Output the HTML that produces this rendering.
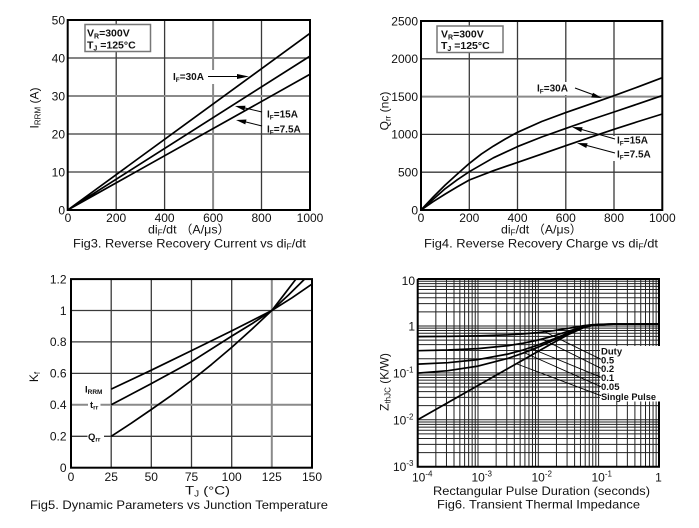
<!DOCTYPE html>
<html><head><meta charset="utf-8"><style>
html,body{margin:0;padding:0;background:#fff;}
svg{display:block;font-family:"Liberation Sans",Arial,"Noto Sans CJK SC",sans-serif;}
.t{font-size:12px;fill:#111;}
.b{font-weight:bold;fill:#111;}
.g{fill:none;stroke:#3a3a3a;stroke-width:1.3;}
.gg{fill:none;stroke:#8a8a8a;stroke-width:2;}
.f{fill:none;stroke:#000;stroke-width:2;}
.c{fill:none;stroke:#000;stroke-width:1.7;stroke-linejoin:round;}
.l{fill:none;stroke:#000;stroke-width:1;}
</style></head><body>
<svg width="699" height="528" viewBox="0 0 699 528" xmlns="http://www.w3.org/2000/svg">
<rect width="699" height="528" fill="#fff"/>

<!-- ===== Fig3 ===== -->
<path class="g" d="M116.2,20V210 M164.6,20V210 M261.5,20V210 M67.7,58H310 M67.7,134H310 M67.7,172H310"/>
<path class="gg" d="M213.1,20V210 M67.7,96H310"/>
<rect x="171" y="70" width="44" height="14" fill="#fff"/>
<path class="c" d="M67.7,210 L310,33.3 M67.7,210 L310,56.1 M67.7,210 L310,74.3"/>
<rect class="f" x="67.7" y="20" width="242.3" height="190"/>
<rect x="85" y="24.5" width="65.5" height="27" fill="#fff" stroke="#777" stroke-width="1.5"/>
<text class="b" x="87" y="36.5" font-size="10.5">V<tspan font-size="7" dy="2">R</tspan><tspan dy="-2">=300V</tspan></text>
<text class="b" x="87" y="48.5" font-size="10.5">T<tspan font-size="7" dy="2">J</tspan><tspan dy="-2"> =125°C</tspan></text>
<text class="b" x="173" y="80" font-size="10">I<tspan font-size="6.5" dy="2">F</tspan><tspan dy="-2">=30A</tspan></text>
<path class="l" d="M208,76.5 L240,76.5"/><path d="M249,76.5 L237,74 L237,79 Z" fill="#000"/>
<text class="b" x="267" y="117.5" font-size="10">I<tspan font-size="6.5" dy="2">F</tspan><tspan dy="-2">=15A</tspan></text>
<path class="l" d="M262,112 L243,107.5"/><path d="M235,106 L245.5,105.8 L244.3,110.7 Z" fill="#000"/>
<text class="b" x="267" y="132.5" font-size="10">I<tspan font-size="6.5" dy="2">F</tspan><tspan dy="-2">=7.5A</tspan></text>
<path class="l" d="M262,126 L244,121.5"/><path d="M236,120 L246.5,119.5 L245.3,124.4 Z" fill="#000"/>
<g class="t" text-anchor="middle">
<text x="68" y="222">0</text><text x="116.2" y="222">200</text><text x="164.6" y="222">400</text><text x="213.1" y="222">600</text><text x="261.5" y="222">800</text><text x="310" y="222">1000</text>
</g>
<g class="t" text-anchor="end">
<text x="65" y="24.3">50</text><text x="65" y="62.3">40</text><text x="65" y="100.3">30</text><text x="65" y="138.3">20</text><text x="65" y="176.3">10</text><text x="65" y="214.3">0</text>
</g>
<text class="t" x="148" y="233.5" textLength="82" lengthAdjust="spacingAndGlyphs">di<tspan font-size="8" dy="2">F</tspan><tspan dy="-2">/dt （A/μs）</tspan></text>
<text class="t" x="73" y="247.5" textLength="233" lengthAdjust="spacingAndGlyphs">Fig3. Reverse Recovery Current vs di<tspan font-size="8" dy="2">F</tspan><tspan dy="-2">/dt</tspan></text>
<text class="t" transform="translate(38.5,108) rotate(-90)" text-anchor="middle">I<tspan font-size="8" dy="2">RRM</tspan><tspan dy="-2"> (A)</tspan></text>

<!-- ===== Fig4 ===== -->
<path class="g" d="M469.3,21V210 M517.5,21V210 M565.8,21V210 M614,21V210 M421,58.8H662.3 M421,134.4H662.3 M421,172.2H662.3"/>
<path class="gg" d="M421,96.6H662.3"/>
<rect x="535" y="82" width="40" height="13" fill="#fff"/>
<rect x="612" y="136" width="46" height="25" fill="#fff"/>
<path class="c" d="M421,210 L433.1,197.1 L445.1,185.1 L457.2,174.1 L469.3,163.4 L481.3,154.1 L493.4,146.1 L505.5,138.9 L517.5,132.3 L541.7,121.5 L565.8,112.6 L589.9,104.2 L614,95.7 L638.2,86.8 L662.3,77.7"/>
<path class="c" d="M421,210 L433.1,199.4 L445.1,188.8 L457.2,179.8 L469.3,171.7 L493.4,157.8 L517.5,146.6 L541.7,137 L565.8,128.4 L589.9,120 L614,112 L638.2,103.8 L662.3,95.6"/>
<path class="c" d="M421,210 L433.1,201.7 L445.1,194.1 L457.2,186.9 L469.3,180 L493.4,170.7 L517.5,162.4 L541.7,154.1 L565.8,145.7 L589.9,137.4 L614,129.3 L638.2,121.5 L662.3,114"/>
<rect class="f" x="421" y="21" width="241.3" height="189"/>
<rect x="437" y="26" width="66" height="26.5" fill="#fff" stroke="#777" stroke-width="1.5"/>
<text class="b" x="441" y="37.5" font-size="10.5">V<tspan font-size="7" dy="2">R</tspan><tspan dy="-2">=300V</tspan></text>
<text class="b" x="441" y="49" font-size="10.5">T<tspan font-size="7" dy="2">J</tspan><tspan dy="-2"> =125°C</tspan></text>
<text class="b" x="537" y="91.5" font-size="10">I<tspan font-size="6.5" dy="2">F</tspan><tspan dy="-2">=30A</tspan></text>
<path class="l" d="M575,88 L594,95"/><path d="M602,98 L591.2,97.5 L593,92.8 Z" fill="#000"/>
<text class="b" x="617" y="143.5" font-size="10">I<tspan font-size="6.5" dy="2">F</tspan><tspan dy="-2">=15A</tspan></text>
<path class="l" d="M615,139 L580,129"/><path d="M572,127 L582.6,127.3 L581.2,132.1 Z" fill="#000"/>
<text class="b" x="617" y="157.5" font-size="10">I<tspan font-size="6.5" dy="2">F</tspan><tspan dy="-2">=7.5A</tspan></text>
<path class="l" d="M615,153 L585,145"/><path d="M577,143 L587.6,143.2 L586.3,148 Z" fill="#000"/>
<g class="t" text-anchor="middle">
<text x="421" y="222">0</text><text x="469.3" y="222">200</text><text x="517.5" y="222">400</text><text x="565.8" y="222">600</text><text x="614" y="222">800</text><text x="662.3" y="222">1000</text>
</g>
<g class="t" text-anchor="end">
<text x="418" y="25.3">2500</text><text x="418" y="63.1">2000</text><text x="418" y="100.9">1500</text><text x="418" y="138.7">1000</text><text x="418" y="176.5">500</text><text x="418" y="214.3">0</text>
</g>
<text class="t" x="501" y="233.5" textLength="81" lengthAdjust="spacingAndGlyphs">di<tspan font-size="8" dy="2">F</tspan><tspan dy="-2">/dt （A/μs）</tspan></text>
<text class="t" x="424" y="247.5" textLength="234" lengthAdjust="spacingAndGlyphs">Fig4. Reverse Recovery Charge vs di<tspan font-size="8" dy="2">F</tspan><tspan dy="-2">/dt</tspan></text>
<text class="t" transform="translate(388.5,111) rotate(-90)" text-anchor="middle">Q<tspan font-size="8" dy="2">rr</tspan><tspan dy="-2"> (nc)</tspan></text>

<!-- ===== Fig5 ===== -->
<path class="g" d="M111.2,279.1V467.7 M151.3,279.1V467.7 M191.5,279.1V467.7 M231.7,279.1V467.7 M71,310.5H312 M71,341.9H312 M71,373.4H312 M71,436.3H312"/>
<path class="gg" d="M271.8,279.1V467.7 M71,404.8H312"/>
<rect x="88" y="398" width="12.5" height="13" fill="#fff"/>
<rect x="87.5" y="430" width="16.5" height="13" fill="#fff"/>
<path class="c" d="M111.2,389.1 L151.3,370.2 L191.5,350.6 L231.7,330.9 L251.7,320.7 L271.8,310.5 L292,297.8 L312,284.1"/>
<path class="c" d="M111.2,404.8 L151.3,383.6 L191.5,361.7 L231.7,336.1 L251.7,323.9 L271.8,310.5 L288.5,295 L304.6,279.1"/>
<path class="c" d="M111.2,436.3 L131.3,423.2 L151.3,409.5 L171.4,395.4 L191.5,380.5 L211.6,364.4 L231.7,347.4 L251.7,329.4 L271.8,310.5 L283.9,294.8 L295.9,279.1"/>
<rect class="f" x="71" y="279.1" width="241" height="188.6"/>
<text class="b" x="85" y="392.5" font-size="9.5">I<tspan font-size="6.5" dy="1.5">RRM</tspan></text>
<text class="b" x="90" y="408" font-size="9.5">t<tspan font-size="6.5" dy="1.5">rr</tspan></text>
<text class="b" x="88" y="440" font-size="9.5">Q<tspan font-size="6.5" dy="1.5">rr</tspan></text>
<g class="t" text-anchor="middle">
<text x="71" y="481">0</text><text x="111.2" y="481">25</text><text x="151.3" y="481">50</text><text x="191.5" y="481">75</text><text x="231.7" y="481">100</text><text x="271.8" y="481">125</text><text x="312" y="481">150</text>
</g>
<g class="t" text-anchor="end">
<text x="66.5" y="283.4">1.2</text><text x="66.5" y="314.8">1</text><text x="66.5" y="346.2">0.8</text><text x="66.5" y="377.7">0.6</text><text x="66.5" y="409.1">0.4</text><text x="66.5" y="440.6">0.2</text><text x="66.5" y="472">0</text>
</g>
<text class="t" x="185" y="494.5" textLength="45" lengthAdjust="spacingAndGlyphs">T<tspan font-size="8" dy="2">J</tspan><tspan dy="-2"> (°C)</tspan></text>
<text class="t" x="30" y="509" textLength="298" lengthAdjust="spacingAndGlyphs">Fig5. Dynamic Parameters vs Junction Temperature</text>
<text class="t" transform="translate(38,377) rotate(-90)" text-anchor="middle">K<tspan font-size="8" dy="2">f</tspan></text>

<!-- ===== Fig6 ===== -->
<path fill="none" stroke="#222" stroke-width="1" d="M435.85,279V466.7 M446.47,279V466.7 M454,279V466.7 M459.85,279V466.7 M464.61,279V466.7 M468.65,279V466.7 M472.15,279V466.7 M475.23,279V466.7 M478,279V466.7 M496.15,279V466.7 M506.77,279V466.7 M514.3,279V466.7 M520.15,279V466.7 M524.91,279V466.7 M528.95,279V466.7 M532.45,279V466.7 M535.53,279V466.7 M538.3,279V466.7 M556.45,279V466.7 M567.07,279V466.7 M574.6,279V466.7 M580.45,279V466.7 M585.21,279V466.7 M589.25,279V466.7 M592.75,279V466.7 M595.83,279V466.7 M598.6,279V466.7 M616.75,279V466.7 M627.37,279V466.7 M634.9,279V466.7 M640.75,279V466.7 M645.51,279V466.7 M649.55,279V466.7 M653.05,279V466.7 M656.13,279V466.7
M417.7,452.58H659 M417.7,444.33H659 M417.7,438.47H659 M417.7,433.92H659 M417.7,430.21H659 M417.7,427.07H659 M417.7,424.35H659 M417.7,421.96H659 M417.7,419.8H659 M417.7,405.68H659 M417.7,397.43H659 M417.7,391.57H659 M417.7,387.02H659 M417.7,383.31H659 M417.7,380.17H659 M417.7,377.45H659 M417.7,375.06H659 M417.7,372.9H659 M417.7,358.78H659 M417.7,350.53H659 M417.7,344.67H659 M417.7,340.12H659 M417.7,336.41H659 M417.7,333.27H659 M417.7,330.55H659 M417.7,328.16H659 M417.7,326H659 M417.7,311.88H659 M417.7,303.63H659 M417.7,297.77H659 M417.7,293.22H659 M417.7,289.51H659 M417.7,286.37H659 M417.7,283.65H659 M417.7,281.26H659"/>
<rect x="600" y="346" width="59" height="55.5" fill="#fff"/>
<g class="c" stroke-width="1.8">
<path d="M417.7,419.8 L447.85,402.6 L478,385.5 L508.15,368.4 L523.2,359.9 L538.3,351.3 L553.4,342.8 L568.45,334.5 L583.5,327.7 L591.1,325.8 L598.6,324.7 L606.1,324.3 L613.7,324.1 L628.75,324.06 L659,324.06"/>
<path d="M417.7,336.6 L447.85,336.4 L478,335.9 L508.15,334.8 L523.2,333.9 L538.3,332.6 L553.4,330.7 L568.45,328.3 L583.5,325.7 L591.1,324.8 L598.6,324.4 L606.1,324.2 L613.7,324.1 L659,324.06"/>
<path d="M417.7,350.7 L447.85,350 L478,348.6 L508.15,345.6 L523.2,343.2 L538.3,340 L553.4,336 L568.45,331.2 L583.5,326.7 L591.1,325.3 L598.6,324.6 L606.1,324.2 L613.7,324.1 L659,324.06"/>
<path d="M417.7,364.1 L447.85,362.7 L478,359.6 L508.15,354 L523.2,349.9 L538.3,344.9 L553.4,339.1 L568.45,332.8 L583.5,327.2 L591.1,325.5 L598.6,324.6 L606.1,324.3 L613.7,324.1 L659,324.06"/>
<path d="M417.7,373.1 L447.85,370.7 L478,366.1 L508.15,358.3 L523.2,353.1 L538.3,347.1 L553.4,340.4 L568.45,333.4 L583.5,327.4 L591.1,325.6 L598.6,324.7 L606.1,324.3 L613.7,324.1 L659,324.06"/>
</g>
<path fill="none" stroke="#000" stroke-width="0.9" d="M543,331 L601,359.3 M543,339.5 L601,368.3 M530,348 L601,377.3 M525,353 L601,386.7 M517,364 L601,395.7"/>
<path class="f" d="M417.7,279 H659 V346 M659,401.5 V466.7 H417.7 V279"/>
<g class="b" font-size="9.5">
<text x="601" y="354.5">Duty</text>
<text x="601" y="363.5">0.5</text>
<text x="601" y="372.2">0.2</text>
<text x="601" y="381.2">0.1</text>
<text x="601" y="390.2">0.05</text>
<text x="601" y="400" textLength="55" lengthAdjust="spacingAndGlyphs">Single Pulse</text>
</g>
<g class="t">
<text x="415" y="285" text-anchor="end">10</text>
<text x="415" y="330.3" text-anchor="end">1</text>
<text x="393" y="377.5">10<tspan font-size="8" dy="-5">-1</tspan></text>
<text x="393" y="424.5">10<tspan font-size="8" dy="-5">-2</tspan></text>
<text x="393" y="471">10<tspan font-size="8" dy="-5">-3</tspan></text>
<text x="412" y="481.5">10<tspan font-size="8" dy="-5">-4</tspan></text>
<text x="471.5" y="481.5">10<tspan font-size="8" dy="-5">-3</tspan></text>
<text x="531.5" y="481.5">10<tspan font-size="8" dy="-5">-2</tspan></text>
<text x="591.5" y="481.5">10<tspan font-size="8" dy="-5">-1</tspan></text>
<text x="658.5" y="481.5" text-anchor="middle">1</text>
</g>
<text class="t" x="433" y="495" textLength="217" lengthAdjust="spacingAndGlyphs">Rectangular Pulse Duration (seconds)</text>
<text class="t" x="437" y="508.5" textLength="203" lengthAdjust="spacingAndGlyphs">Fig6. Transient Thermal Impedance</text>
<text class="t" transform="translate(388.5,382) rotate(-90)" text-anchor="middle">Z<tspan font-size="8" dy="2">thJC</tspan><tspan dy="-2"> (K/W)</tspan></text>
</svg>
</body></html>
